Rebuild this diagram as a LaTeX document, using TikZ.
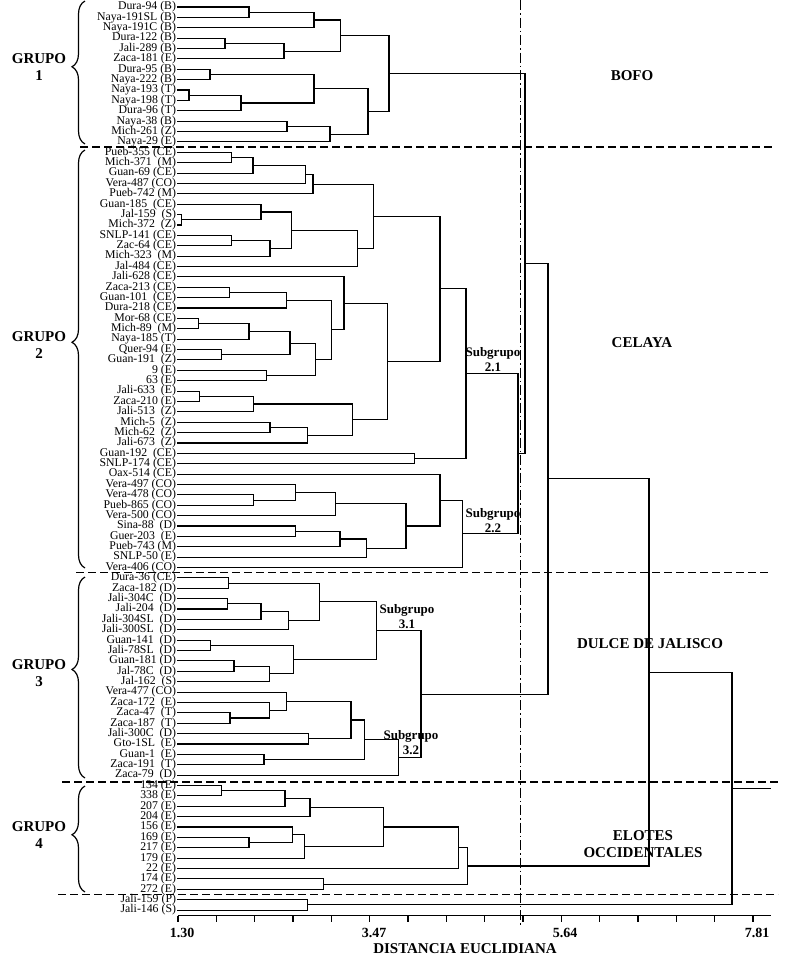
\documentclass[tikz,border=0pt]{standalone}
\usepackage{fontspec}
\setmainfont{Liberation Serif}
\usetikzlibrary{calc,decorations.pathreplacing}
\tikzset{
  tree/.style={line width=1.1pt, black},
  lab/.style={anchor=east, inner sep=0.8pt, font=\fontsize{11.8}{11.8}\selectfont},
  grp/.style={font=\fontsize{15}{15}\selectfont\bfseries},
  clus/.style={font=\fontsize{15}{17}\selectfont\bfseries, align=center},
  sub/.style={font=\fontsize{13}{15}\selectfont\bfseries, align=center},
  ticklab/.style={font=\fontsize{14}{14}\selectfont\bfseries},
  sep/.style={line width=1.2pt, dash pattern=on 8pt off 4pt},
  cut/.style={line width=1.2pt, dash pattern=on 10pt off 3pt on 1.5pt off 3pt},
  grpbrace/.style={line width=1.2pt, decorate, decoration={brace, amplitude=13pt, aspect=0.54}},
  axisline/.style={line width=1.1pt}
}
\newcommand\mrg[4]{%
  \coordinate (X) at (#4,0);
  \draw[tree] (#2) -- (#2 -| X) -- (#3 -| X) -- (#3);
  \coordinate (#1) at ($(#2 -| X)!0.5!(#3 -| X)$);
}
\begin{document}
\begin{tikzpicture}[x=1pt,y=-1pt]
\useasboundingbox (0,0) rectangle (800,961);
% leaves
\foreach \t [count=\i from 0] in {Dura-94 (B),Naya-191SL (B),Naya-191C (B),Dura-122 (B),Jali-289 (B),Zaca-181 (E),Dura-95 (B),Naya-222 (B),Naya-193 (T),Naya-198 (T),Dura-96 (T),Naya-38 (B),Mich-261 (Z),Naya-29 (E),
Pueb-355 (CE),Mich-371 \ (M),Guan-69 (CE),Vera-487 (CO),Pueb-742 (M),Guan-185 \ (CE),Jal-159 \ (S),Mich-372 \ (Z),SNLP-141 (CE),Zac-64 (CE),Mich-323 \ (M),Jal-484 (CE),Jali-628 (CE),Zaca-213 (CE),Guan-101 \ (CE),Dura-218 (CE),Mor-68 (CE),Mich-89 \ (M),Naya-185 (T),Quer-94 (E),Guan-191 \ (Z),9 (E),63 (E),Jali-633 \ (E),Zaca-210 (E),Jali-513 \ (Z),Mich-5 \ (Z),Mich-62 \ (Z),Jali-673 \ (Z),Guan-192 \ (CE),SNLP-174 (CE),Oax-514 (CE),Vera-497 (CO),Vera-478 (CO),Pueb-865 (CO),Vera-500 (CO),Sina-88 \ (D),Guer-203 \ (E),Pueb-743 (M),SNLP-50 (E),Vera-406 (CO),
Dura-36 (CE),Zaca-182 (D),Jali-304C \ (D),Jali-204 \ (D),Jali-304SL \ (D),Jali-300SL \ (D),Guan-141 \ (D),Jali-78SL \ (D),Guan-181 (D),Jal-78C \ (D),Jal-162 \ (S),Vera-477 (CO),Zaca-172 \ (E),Zaca-47 \ (T),Zaca-187 \ (T),Jali-300C \ (D),Gto-1SL \ (E),Guan-1 \ (E),Zaca-191 \ (T),Zaca-79 \ (D),
134 (E),338 (E),207 (E),204 (E),156 (E),169 (E),217 (E),179 (E),22 (E),174 (E),272 (E),Jali-159 (P),Jali-146 (S)} {
  \node[lab] (N\i) at (177,{7+10.38*\i}) {\t};
  \coordinate (L\i) at (177,{7+10.38*\i});
}
% group 1
\mrg{a1}{L0}{L1}{249}
\mrg{a2}{a1}{L2}{314}
\mrg{a3}{L3}{L4}{225}
\mrg{a4}{a3}{L5}{284}
\mrg{a5}{a2}{a4}{340.7}
\mrg{a6}{L6}{L7}{210}
\mrg{a7}{L8}{L9}{189}
\mrg{a8}{a7}{L10}{241}
\mrg{a9}{a6}{a8}{314}
\mrg{a10}{L11}{L12}{287}
\mrg{a11}{a10}{L13}{330}
\mrg{a12}{a9}{a11}{368}
\mrg{g1}{a5}{a12}{389}
% group 2
\mrg{b1}{L14}{L15}{231.7}
\mrg{b2}{b1}{L16}{253}
\mrg{b3}{b2}{L17}{305.7}
\mrg{b4}{b3}{L18}{313}
\mrg{b5}{L20}{L21}{181.7}
\mrg{b6}{L19}{b5}{261}
\mrg{b7}{L22}{L23}{231.7}
\mrg{b8}{b7}{L24}{270}
\mrg{b9}{b6}{b8}{291.7}
\mrg{b10}{b9}{L25}{357.7}
\mrg{b11}{b4}{b10}{373.3}
\mrg{c1}{L27}{L28}{229.3}
\mrg{c2}{c1}{L29}{286.7}
\mrg{c3}{L30}{L31}{198.3}
\mrg{c4}{c3}{L32}{249}
\mrg{c5}{L33}{L34}{221.7}
\mrg{c6}{c4}{c5}{290}
\mrg{c7}{L35}{L36}{266.7}
\mrg{c8}{c6}{c7}{315.7}
\mrg{c9}{c2}{c8}{331.7}
\mrg{c10}{L26}{c9}{344}
\mrg{d1}{L37}{L38}{199.3}
\mrg{d2}{d1}{L39}{253.3}
\mrg{d3}{L40}{L41}{270}
\mrg{d4}{d3}{L42}{307.7}
\mrg{d5}{d2}{d4}{352.7}
\mrg{e1}{c10}{d5}{387.3}
\mrg{e2}{b11}{e1}{440}
\mrg{e3}{L43}{L44}{414.3}
\mrg{s21}{e2}{e3}{466}
\mrg{f1}{L47}{L48}{253.3}
\mrg{f2}{L46}{f1}{295.7}
\mrg{f3}{f2}{L49}{335.7}
\mrg{f4}{L50}{L51}{295.7}
\mrg{f5}{f4}{L52}{340}
\mrg{f6}{f5}{L53}{366.7}
\mrg{f7}{f3}{f6}{406}
\mrg{f8}{L45}{f7}{440}
\mrg{s22}{f8}{L54}{462.3}
\mrg{g2}{s21}{s22}{518}
% group 3
\mrg{h1}{L55}{L56}{228.3}
\mrg{h2}{L57}{L58}{227.3}
\mrg{h3}{h2}{L59}{261}
\mrg{h4}{h3}{L60}{288.3}
\mrg{h5}{h1}{h4}{319.3}
\mrg{h6}{L61}{L62}{210.7}
\mrg{h7}{L63}{L64}{234}
\mrg{h8}{h7}{L65}{269.3}
\mrg{h9}{h6}{h8}{293.3}
\mrg{s31}{h5}{h9}{376.7}
\mrg{i1}{L68}{L69}{230}
\mrg{i2}{L67}{i1}{269.3}
\mrg{i3}{L66}{i2}{286.7}
\mrg{i4}{L70}{L71}{308.3}
\mrg{i5}{i3}{i4}{351}
\mrg{i6}{L72}{L73}{264}
\mrg{i7}{i5}{i6}{364.3}
\mrg{s32}{i7}{L74}{398.3}
\mrg{g3}{s31}{s32}{421}
% group 4
\mrg{j1}{L75}{L76}{221.7}
\mrg{j2}{j1}{L77}{285}
\mrg{j3}{j2}{L78}{310}
\mrg{j4}{L80}{L81}{249}
\mrg{j5}{L79}{j4}{292.3}
\mrg{j6}{j5}{L82}{304.3}
\mrg{j7}{j3}{j6}{383.3}
\mrg{j8}{j7}{L83}{458.3}
\mrg{j9}{L84}{L85}{323.3}
\mrg{g4}{j8}{j9}{467.7}
\mrg{o1}{L86}{L87}{307.5}
% top
\mrg{k1}{g1}{g2}{525}
\mrg{k2}{k1}{g3}{548}
\mrg{k3}{k2}{g4}{649}
\mrg{k4}{k3}{o1}{732}
\coordinate (rootend) at ($(k4)+(39,0)$);
\draw[tree] (k4) -- (rootend);
% separators
\draw[sep] (80,147) -- (772,147);
\draw[sep] (76,572.5) -- (771,572.5);
\draw[sep] (62,782) -- (780,782);
\draw[sep] (58,894.5) -- (778,894.5);
% cut line
\draw[cut] (520.7,0) -- (520.7,925);
% axis
\draw[axisline] (178,915.5) -- (771,915.5);
\foreach \k in {0,...,15} \draw[axisline] ({178+38.33*\k},915.5) -- ++(0,6);
\node[ticklab] (t0) at (182,933) {1.30};
\node[ticklab] (t1) at (374,933) {3.47};
\node[ticklab] (t2) at (565,933) {5.64};
\node[ticklab] (t3) at (757,933) {7.81};
\node[grp] (xt) at (465,949) {DISTANCIA EUCLIDIANA};
% braces
\draw[grpbrace] (85,144) -- (85,1);
\draw[grpbrace] (85,568) -- (85,150);
\draw[grpbrace] (85,778) -- (85,577);
\draw[grpbrace] (85,892) -- (85,786);
\node[grp] (G1a) at (39,59) {GRUPO};
\node[grp] (G1b) at (39,76) {1};
\node[grp] (G2a) at (39,337) {GRUPO};
\node[grp] (G2b) at (39,354) {2};
\node[grp] (G3a) at (39,665) {GRUPO};
\node[grp] (G3b) at (39,682) {3};
\node[grp] (G4a) at (39,827) {GRUPO};
\node[grp] (G4b) at (39,844) {4};
% cluster names
\node[clus] (bofo) at (632,76) {BOFO};
\node[clus] (cel) at (642,343) {CELAYA};
\node[clus] (dul) at (650,644) {DULCE DE JALISCO};
\node[clus] (elo) at (643,844.5) {ELOTES\\OCCIDENTALES};
% subgroups
\node[sub] (sg21) at (493,359.5) {Subgrupo\\2.1};
\node[sub] (sg22) at (493,520.5) {Subgrupo\\2.2};
\node[sub] (sg31) at (407,617) {Subgrupo\\3.1};
\node[sub] (sg32) at (411,742.5) {Subgrupo\\3.2};
\end{tikzpicture}
\end{document}
